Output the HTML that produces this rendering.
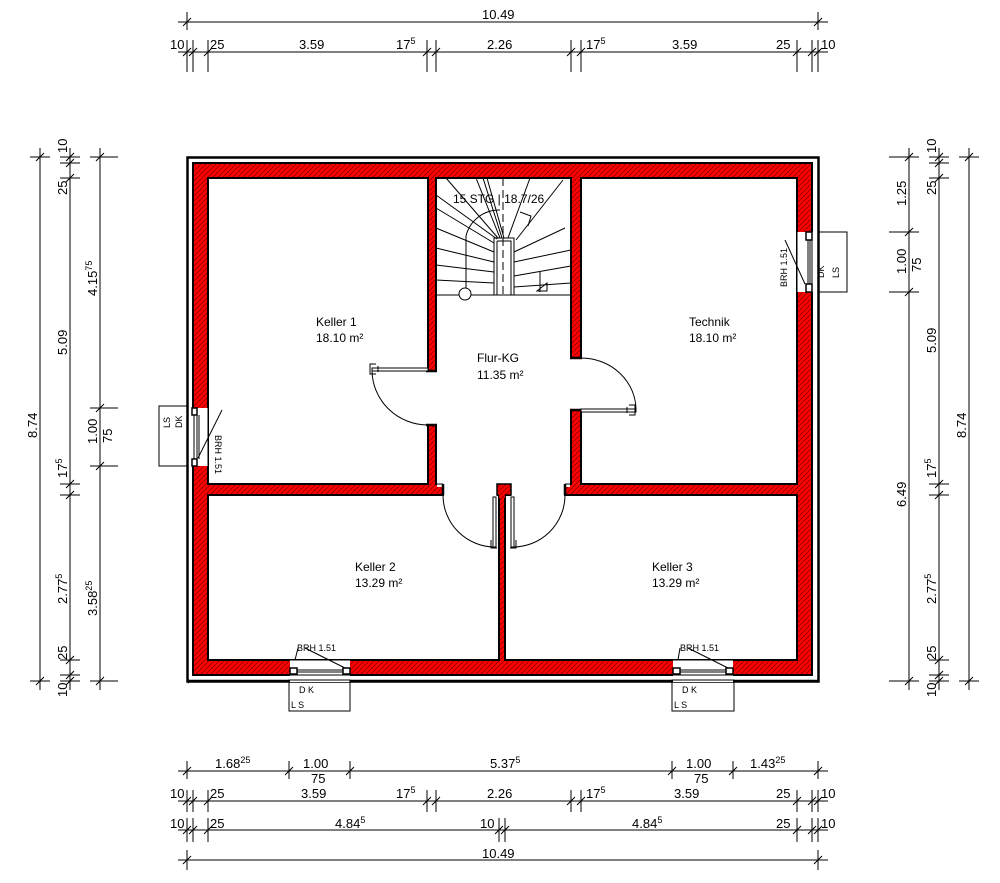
<!DOCTYPE html>
<html><head><meta charset="utf-8"><style>
html,body{margin:0;padding:0;background:#fff;}
svg{display:block;}
text{font-family:"Liberation Sans",sans-serif;fill:#000;}
.d{font-size:13px;}
.r{font-size:12px;}
.s{font-size:9px;}
</style></head><body>
<svg width="1000" height="883" viewBox="0 0 1000 883" xmlns="http://www.w3.org/2000/svg">
<defs>
<pattern id="h" patternUnits="userSpaceOnUse" width="5" height="5">
<rect width="5" height="5" fill="#ff0000"/>
<path d="M-1,1 L1,-1 M0,5 L5,0 M4,6 L6,4" stroke="#700" stroke-width="0.7"/>
</pattern>
</defs>

<!-- outer line -->
<rect x="187.5" y="157.5" width="631" height="524" fill="none" stroke="#000" stroke-width="2.5"/>
<!-- walls -->
<rect x="193" y="163" width="619" height="512" fill="url(#h)" stroke="#000" stroke-width="2"/>
<!-- rooms -->
<g fill="#fff" stroke="#000" stroke-width="2">
<rect x="208" y="178" width="220" height="306"/>
<rect x="436" y="178" width="135" height="306"/>
<rect x="581" y="178" width="216" height="306"/>
<rect x="208" y="495" width="291" height="165"/>
<rect x="505" y="495" width="292" height="165"/>
</g>
<!-- openings -->
<g fill="#fff">
<rect x="427" y="371" width="10" height="54"/>
<rect x="570" y="359" width="12" height="51"/>
<rect x="444" y="483" width="53" height="13"/>
<rect x="511" y="483" width="53" height="13"/>
<rect x="437" y="479" width="133" height="8"/>
</g>
<rect x="497" y="484" width="14" height="11" fill="url(#h)" stroke="#000" stroke-width="1.5"/>
<rect x="499" y="494" width="6" height="4" fill="url(#h)"/>
<g stroke="#000" stroke-width="2.5" fill="none">
<path d="M426,371 H437 M426,425 H437 M570,358 H582 M570,410 H582 M443,484 V495 M565,484 V495"/>
</g>
<g stroke="#000" stroke-width="1" fill="none">
<path d="M436,425 V484 H443 M571,410 V484 H565"/>
</g>

<!-- doors -->
<g stroke="#000" fill="none" stroke-width="1">
<path d="M372,370 A56,55 0 0 0 428,425"/>
<rect x="372" y="368" width="56" height="3" fill="#fff"/>
<path d="M376,364 h-6 v10 h6 M378,366 v6"/>
<path d="M636,410 A55,52 0 0 0 581,358"/>
<rect x="581" y="409" width="55" height="3" fill="#fff"/>
<path d="M629,405 h6 v10 h-6 M627,407 v6"/>
<path d="M443,495 A52,52 0 0 0 495,547"/>
<path d="M565,495 A52,52 0 0 1 512,547"/>
<rect x="493" y="497" width="3" height="50" fill="#fff"/>
<rect x="511" y="497" width="3" height="50" fill="#fff"/>
<path d="M491,540 v8 h6 M516,540 v8 h-6"/>
</g>

<!-- stairs -->
<g stroke="#000" stroke-width="1" fill="none">
<rect x="494" y="238" width="20" height="57" fill="#fff"/>
<path d="M497,241 H511 V295 M497,241 V295"/>
<path d="M436,195 L497,239 M436,208 L494,243 M436,228 L494,252 M436,248 L494,262 M436,265 L494,272 M436,280 L494,283"/>
<path d="M446,178 L498,238 M476,178 L500,238 M483,178 L502,238 M487,178 L504,238"/>
<path d="M530,178 L508,238 M563,180 L516,240 M514,252 L565,228 M514,262 L571,250 M514,276 L571,266 M514,287 L571,283"/>
<path d="M436,295 H494 M514,295 H571"/>
<path d="M466,289 V236 A34,34 0 0 1 500,210"/>
<circle cx="465" cy="294" r="6" fill="#fff"/>
<path d="M503,178 V295" stroke-dasharray="8,4"/>
<path d="M520,212 L531,216 L528,226"/>
<path d="M547,283 L537,291 H547 Z M540,272 v20"/>
</g>
<text x="453" y="203" class="r">15 STG | 18.7/26</text>

<!-- windows: left -->
<rect x="189" y="408" width="19" height="58" fill="#fff"/>
<g stroke="#000" fill="#fff" stroke-width="1.5">
<rect x="192" y="408" width="5" height="7"/><rect x="192" y="459" width="5" height="7"/>
</g>
<g stroke="#000" stroke-width="1" fill="none">
<path d="M187,408 V466 M194,415 V459 M197,415 V459 M199,415 V459 M208,408 V466"/>
<rect x="159" y="406" width="28" height="60"/>
<path d="M198,458 L222,410"/>
</g>
<text class="s" transform="translate(170,428) rotate(-90)" >LS</text>
<text class="s" transform="translate(182,428) rotate(-90)" >DK</text>
<text class="s" transform="translate(215,435) rotate(90)">BRH 1.51</text>

<!-- right window -->
<rect x="797" y="232" width="20" height="60" fill="#fff"/>
<g stroke="#000" fill="#fff" stroke-width="1.5">
<rect x="806" y="232" width="6" height="8"/><rect x="806" y="284" width="6" height="8"/>
</g>
<g stroke="#000" stroke-width="1" fill="none">
<path d="M818,232 V292 M808,240 V284 M810,240 V284 M812,240 V284 M797,232 V292"/>
<rect x="818" y="232" width="29" height="60"/>
<path d="M805,284 L785,240"/>
</g>
<text class="s" transform="translate(787,287) rotate(-90)">BRH 1.51</text>
<text class="s" transform="translate(824,278) rotate(-90)">DK</text>
<text class="s" transform="translate(839,278) rotate(-90)">LS</text>

<!-- bottom windows -->
<g>
<rect x="290" y="660" width="60" height="22" fill="#fff"/>
<rect x="673" y="660" width="60" height="22" fill="#fff"/>
<g stroke="#000" fill="#fff" stroke-width="1.5">
<rect x="290" y="668" width="7" height="6"/><rect x="343" y="668" width="7" height="6"/>
<rect x="673" y="668" width="7" height="6"/><rect x="726" y="668" width="7" height="6"/>
</g>
<g stroke="#000" stroke-width="1" fill="none">
<path d="M290,660 H350 M297,670 H343 M297,672 H343 M290,675 H350"/>
<path d="M673,660 H733 M680,670 H726 M680,672 H726 M673,675 H733"/>
<path d="M188,681 H289 M350,681 H672 M734,681 H818" stroke-width="2.5"/>
<rect x="289" y="680" width="61" height="31"/>
<rect x="672" y="680" width="62" height="31"/>
<path d="M298,648 L295,660 M305,648 L345,668 M680,648 L678,660 M688,648 L728,668"/>
</g>
<rect x="188" y="679.3" width="1" height="4" fill="#000"/>
<text class="s" x="297" y="651" font-size="7">BRH 1.51</text>
<text class="s" x="680" y="651" font-size="7">BRH 1.51</text>
<text class="s" x="299" y="693" font-size="7">D K</text>
<text class="s" x="291" y="708" font-size="7">L S</text>
<text class="s" x="682" y="693" font-size="7">D K</text>
<text class="s" x="674" y="708" font-size="7">L S</text>
</g>

<!-- room labels -->
<g class="r">
<text x="316" y="326">Keller 1</text><text x="316" y="342">18.10 m²</text>
<text x="477" y="362">Flur-KG</text><text x="477" y="379">11.35 m²</text>
<text x="689" y="326">Technik</text><text x="689" y="342">18.10 m²</text>
<text x="355" y="571">Keller 2</text><text x="355" y="587">13.29 m²</text>
<text x="652" y="571">Keller 3</text><text x="652" y="587">13.29 m²</text>
</g>

<!-- dimension lines -->
<g stroke="#000" stroke-width="1" fill="none">
<!-- top -->
<path d="M178,22 H828 M187,12 V30 M818,12 V30 M183,26 l8,-8 M814,26 l8,-8"/>
<path d="M178,52 H828"/>
<path d="M187,40 V72 M193,40 V72 M208,40 V72 M427,40 V72 M436,40 V72 M571,40 V72 M581,40 V72 M797,40 V72 M812,40 V72 M818,40 V72"/>
<path d="M183,56 l8,-8 M189,56 l8,-8 M204,56 l8,-8 M423,56 l8,-8 M432,56 l8,-8 M567,56 l8,-8 M577,56 l8,-8 M793,56 l8,-8 M808,56 l8,-8 M814,56 l8,-8"/>
<!-- bottom -->
<path d="M178,771 H828 M187,761 V779 M289,761 V779 M350,761 V779 M672,761 V779 M733,761 V779 M818,761 V779"/>
<path d="M183,775 l8,-8 M285,775 l8,-8 M346,775 l8,-8 M668,775 l8,-8 M729,775 l8,-8 M814,775 l8,-8"/>
<path d="M178,801 H828 M187,790 V812 M193,790 V812 M208,790 V812 M427,790 V812 M436,790 V812 M571,790 V812 M581,790 V812 M797,790 V812 M812,790 V812 M818,790 V812"/>
<path d="M183,805 l8,-8 M189,805 l8,-8 M204,805 l8,-8 M423,805 l8,-8 M432,805 l8,-8 M567,805 l8,-8 M577,805 l8,-8 M793,805 l8,-8 M808,805 l8,-8 M814,805 l8,-8"/>
<path d="M178,830 H828 M187,818 V842 M193,818 V842 M208,818 V842 M499,818 V842 M505,818 V842 M797,818 V842 M812,818 V842 M818,818 V842"/>
<path d="M183,834 l8,-8 M189,834 l8,-8 M204,834 l8,-8 M495,834 l8,-8 M501,834 l8,-8 M793,834 l8,-8 M808,834 l8,-8 M814,834 l8,-8"/>
<path d="M178,860 H828 M187,850 V870 M818,850 V870 M183,864 l8,-8 M814,864 l8,-8"/>
<!-- left -->
<path d="M40,148 V690 M30,157 H50 M30,681 H50 M36,161 l8,-8 M36,685 l8,-8"/>
<path d="M70,148 V690 M60,157 H80 M60,163 H80 M60,178 H80 M60,484 H80 M60,495 H80 M60,660 H80 M60,675 H80 M60,681 H80"/>
<path d="M66,161 l8,-8 M66,167 l8,-8 M66,182 l8,-8 M66,488 l8,-8 M66,499 l8,-8 M66,664 l8,-8 M66,679 l8,-8 M66,685 l8,-8"/>
<path d="M100,148 V690 M90,157 H118 M90,408 H118 M90,466 H118 M90,681 H118"/>
<path d="M96,161 l8,-8 M96,412 l8,-8 M96,470 l8,-8 M96,685 l8,-8"/>
<!-- right -->
<path d="M909,148 V690 M889,157 H919 M889,232 H919 M889,292 H919 M889,681 H919"/>
<path d="M905,161 l8,-8 M905,236 l8,-8 M905,296 l8,-8 M905,685 l8,-8"/>
<path d="M939,148 V690 M929,157 H949 M929,163 H949 M929,178 H949 M929,484 H949 M929,495 H949 M929,660 H949 M929,675 H949 M929,681 H949"/>
<path d="M935,161 l8,-8 M935,167 l8,-8 M935,182 l8,-8 M935,488 l8,-8 M935,499 l8,-8 M935,664 l8,-8 M935,679 l8,-8 M935,685 l8,-8"/>
<path d="M969,148 V690 M959,157 H979 M959,681 H979 M965,161 l8,-8 M965,685 l8,-8"/>
</g>

<!-- dimension text -->
<g class="d">
<text x="482" y="19">10.49</text>
<text x="170" y="49">10</text><text x="210" y="49">25</text><text x="299" y="49">3.59</text>
<text x="396" y="49">17<tspan dy="-5" font-size="9">5</tspan></text>
<text x="487" y="49">2.26</text>
<text x="586" y="49">17<tspan dy="-5" font-size="9">5</tspan></text>
<text x="672" y="49">3.59</text><text x="776" y="49">25</text><text x="821" y="49">10</text>

<text x="215" y="768">1.68<tspan dy="-5" font-size="9">25</tspan></text>
<text x="303" y="768">1.00</text><text x="311" y="783">75</text>
<text x="490" y="768">5.37<tspan dy="-5" font-size="9">5</tspan></text>
<text x="686" y="768">1.00</text><text x="694" y="783">75</text>
<text x="750" y="768">1.43<tspan dy="-5" font-size="9">25</tspan></text>

<text x="170" y="798">10</text><text x="210" y="798">25</text><text x="301" y="798">3.59</text>
<text x="396" y="798">17<tspan dy="-5" font-size="9">5</tspan></text>
<text x="487" y="798">2.26</text>
<text x="586" y="798">17<tspan dy="-5" font-size="9">5</tspan></text>
<text x="674" y="798">3.59</text><text x="776" y="798">25</text><text x="821" y="798">10</text>

<text x="170" y="828">10</text><text x="210" y="828">25</text>
<text x="335" y="828">4.84<tspan dy="-5" font-size="9">5</tspan></text>
<text x="480" y="828">10</text>
<text x="632" y="828">4.84<tspan dy="-5" font-size="9">5</tspan></text>
<text x="776" y="828">25</text><text x="821" y="828">10</text>
<text x="482" y="858">10.49</text>

<g transform="translate(37,0)">
<text transform="translate(0,438) rotate(-90)">8.74</text>
</g>
<text transform="translate(67,153) rotate(-90)">10</text>
<text transform="translate(67,195) rotate(-90)">25</text>
<text transform="translate(67,355) rotate(-90)">5.09</text>
<text transform="translate(67,478) rotate(-90)">17<tspan dy="-5" font-size="9">5</tspan></text>
<text transform="translate(67,604) rotate(-90)">2.77<tspan dy="-5" font-size="9">5</tspan></text>
<text transform="translate(67,660) rotate(-90)">25</text>
<text transform="translate(67,697) rotate(-90)">10</text>
<text transform="translate(97,296) rotate(-90)">4.15<tspan dy="-5" font-size="9">75</tspan></text>
<text transform="translate(97,444) rotate(-90)">1.00</text>
<text transform="translate(112,443) rotate(-90)">75</text>
<text transform="translate(97,616) rotate(-90)">3.58<tspan dy="-5" font-size="9">25</tspan></text>

<text transform="translate(906,206) rotate(-90)">1.25</text>
<text transform="translate(906,274) rotate(-90)">1.00</text>
<text transform="translate(921,272) rotate(-90)">75</text>
<text transform="translate(906,507) rotate(-90)">6.49</text>
<text transform="translate(936,153) rotate(-90)">10</text>
<text transform="translate(936,195) rotate(-90)">25</text>
<text transform="translate(936,353) rotate(-90)">5.09</text>
<text transform="translate(936,478) rotate(-90)">17<tspan dy="-5" font-size="9">5</tspan></text>
<text transform="translate(936,604) rotate(-90)">2.77<tspan dy="-5" font-size="9">5</tspan></text>
<text transform="translate(936,660) rotate(-90)">25</text>
<text transform="translate(936,697) rotate(-90)">10</text>
<text transform="translate(966,438) rotate(-90)">8.74</text>
</g>
</svg>
</body></html>
